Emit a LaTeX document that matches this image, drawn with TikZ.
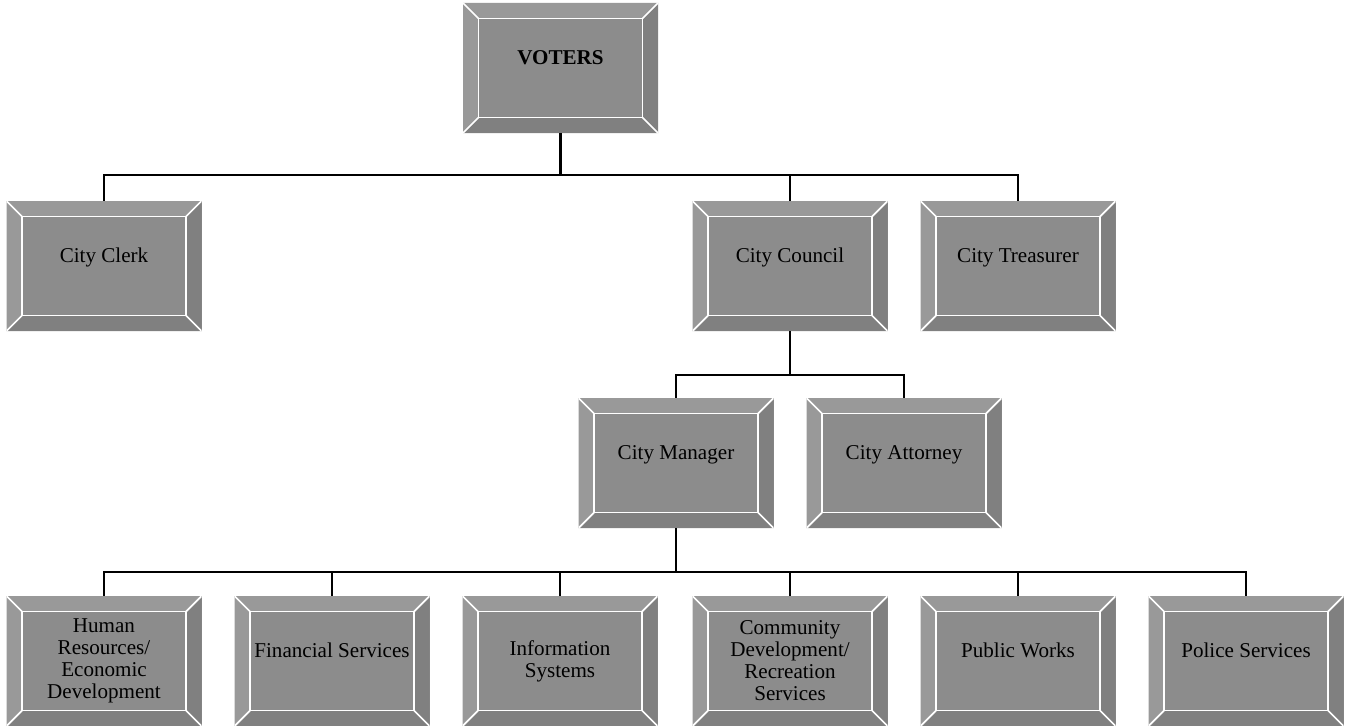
\documentclass[tikz,border=0pt]{standalone}
\usepackage{fontspec}
\setmainfont{Liberation Serif}
\definecolor{boxgray}{gray}{0.55}
\definecolor{bevlight}{gray}{0.6}
\definecolor{bevdark}{gray}{0.5}
\newcommand{\bevw}{0.31cm}
\tikzstyle{orgbox}=[minimum width=3.9cm,minimum height=2.6cm,inner sep=0pt,fill=boxgray,
  align=center,font=\fontsize{12}{12.5}\selectfont,
  path picture={
    \fill[bevlight] (path picture bounding box.north west) -- (path picture bounding box.north east)
      -- ([shift={(-\bevw,-\bevw)}]path picture bounding box.north east)
      -- ([shift={(\bevw,-\bevw)}]path picture bounding box.north west) -- cycle;
    \fill[bevlight] (path picture bounding box.north west) -- (path picture bounding box.south west)
      -- ([shift={(\bevw,\bevw)}]path picture bounding box.south west)
      -- ([shift={(\bevw,-\bevw)}]path picture bounding box.north west) -- cycle;
    \fill[bevdark] (path picture bounding box.south east) -- (path picture bounding box.south west)
      -- ([shift={(\bevw,\bevw)}]path picture bounding box.south west)
      -- ([shift={(-\bevw,\bevw)}]path picture bounding box.south east) -- cycle;
    \fill[bevdark] (path picture bounding box.south east) -- (path picture bounding box.north east)
      -- ([shift={(-\bevw,-\bevw)}]path picture bounding box.north east)
      -- ([shift={(-\bevw,\bevw)}]path picture bounding box.south east) -- cycle;
    \draw[white,line width=1pt] ([shift={(\bevw,\bevw)}]path picture bounding box.south west)
      rectangle ([shift={(-\bevw,-\bevw)}]path picture bounding box.north east);
    \draw[white,line width=1pt] (path picture bounding box.south west) -- ++(\bevw,\bevw)
      (path picture bounding box.north west) -- ++(\bevw,-\bevw)
      (path picture bounding box.north east) -- ++(-\bevw,-\bevw)
      (path picture bounding box.south east) -- ++(-\bevw,\bevw);
  }]
\tikzstyle{onerow}=[text height=0.3cm,text depth=0.44cm]
\tikzstyle{branch}=[line width=0.75pt]
\tikzstyle{stem}=[line width=1.5pt]

\begin{document}
\begin{tikzpicture}
\useasboundingbox (0,0) rectangle (27.04,-14.52);
% voters
\node[orgbox,onerow,font=\fontsize{12}{12.5}\selectfont\bfseries] at (11.21,-1.36) (voters) {VOTERS};
% elected offices
\node[orgbox,onerow] at (2.08,-5.32) (clerk) {City Clerk};
\node[orgbox,onerow] at (15.8,-5.32) (council) {City Council};
\node[orgbox,onerow] at (20.36,-5.32) (treasurer) {City Treasurer};
% appointed by council
\node[orgbox,onerow] at (13.52,-9.26) (manager) {City Manager};
\node[orgbox,onerow] at (18.08,-9.26) (attorney) {City Attorney};
% departments
\node[orgbox] at (2.08,-13.22) (hr) {Human\\Resources/\\Economic\\Development};
\node[orgbox,onerow] at (6.64,-13.22) (finance) {Financial Services};
\node[orgbox] at (11.2,-13.22) (infosys) {Information\\Systems};
\node[orgbox] at (15.8,-13.22) (commdev) {Community\\Development/\\Recreation\\Services};
\node[orgbox,onerow] at (20.36,-13.22) (works) {Public Works};
\node[orgbox,onerow] at (24.92,-13.22) (police) {Police Services};

\coordinate (votersbus) at (11.21,-3.5);
\coordinate (councilbus) at (15.8,-7.5);
\coordinate (managerbus) at (13.52,-11.44);

\draw[stem] (voters) -- (votersbus);
\draw[branch] (votersbus) -| (clerk);
\draw[branch] (votersbus) -| (council);
\draw[branch] (votersbus) -| (treasurer);

\draw[branch] (council) -- (councilbus);
\draw[branch] (councilbus) -| (manager);
\draw[branch] (councilbus) -| (attorney);

\draw[stem] (manager) -- (managerbus);
\draw[branch] (managerbus) -| (hr);
\draw[branch] (managerbus) -| (finance);
\draw[branch] (managerbus) -| (infosys);
\draw[branch] (managerbus) -| (commdev);
\draw[branch] (managerbus) -| (works);
\draw[branch] (managerbus) -| (police);
%\draw[branch] (council) -- (clerk);
\end{tikzpicture}
\end{document}
